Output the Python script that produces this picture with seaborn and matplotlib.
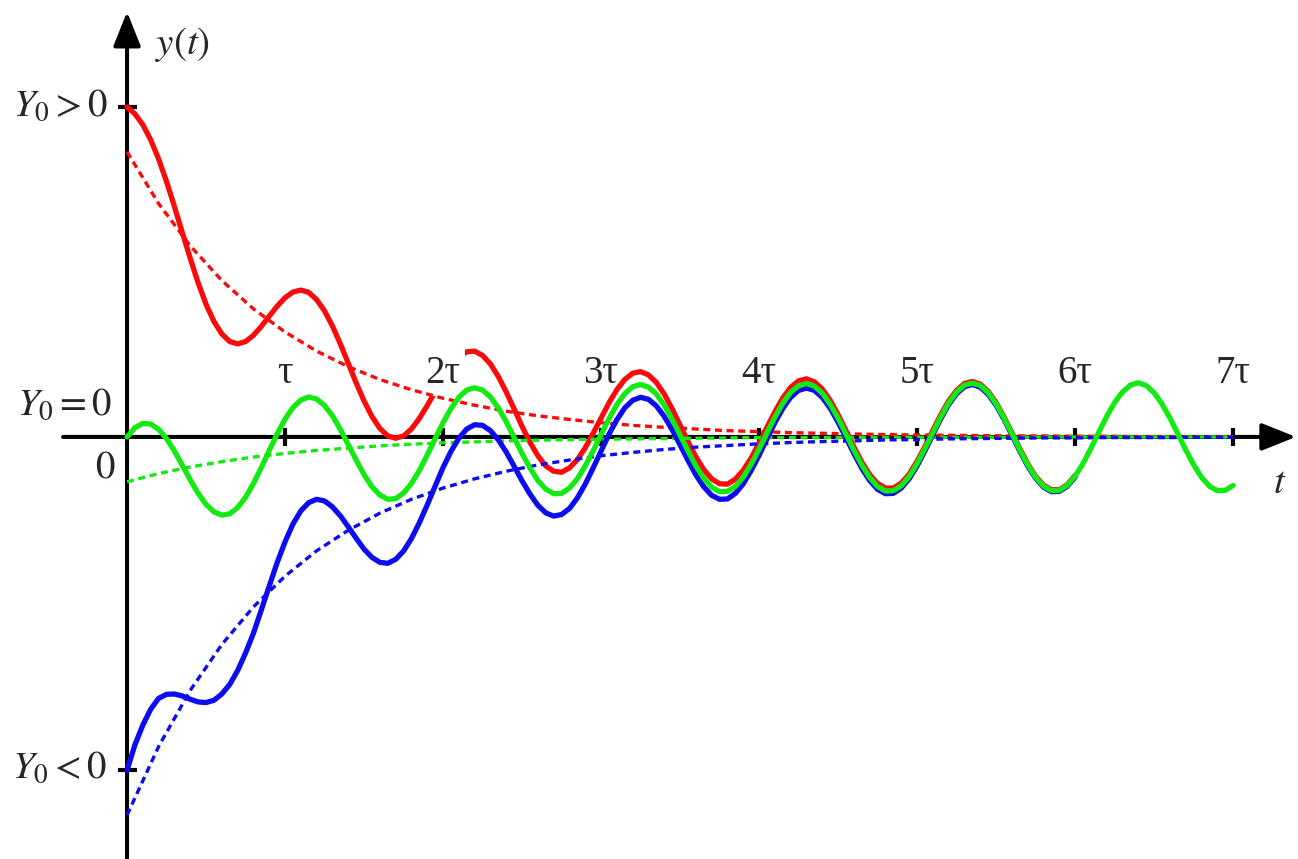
import matplotlib
matplotlib.use("Agg")
import matplotlib.pyplot as plt
import seaborn as sns

# curves: time in units of tau, y in units of |Y0|
t_curve = [0.00, 0.05, 0.10, 0.15, 0.20, 0.25, 0.30, 0.35, 0.40, 0.45,
           0.50, 0.55, 0.60, 0.65, 0.70, 0.75, 0.80, 0.85, 0.90, 0.95,
           1.00, 1.05, 1.10, 1.15, 1.20, 1.25, 1.30, 1.35, 1.40, 1.45,
           1.50, 1.55, 1.60, 1.65, 1.70, 1.75, 1.80, 1.85, 1.90, 1.95,
           2.00, 2.05, 2.10, 2.15, 2.20, 2.25, 2.30, 2.35, 2.40, 2.45,
           2.50, 2.55, 2.60, 2.65, 2.70, 2.75, 2.80, 2.85, 2.90, 2.95,
           3.00, 3.05, 3.10, 3.15, 3.20, 3.25, 3.30, 3.35, 3.40, 3.45,
           3.50, 3.55, 3.60, 3.65, 3.70, 3.75, 3.80, 3.85, 3.90, 3.95,
           4.00, 4.05, 4.10, 4.15, 4.20, 4.25, 4.30, 4.35, 4.40, 4.45,
           4.50, 4.55, 4.60, 4.65, 4.70, 4.75, 4.80, 4.85, 4.90, 4.95,
           5.00, 5.05, 5.10, 5.15, 5.20, 5.25, 5.30, 5.35, 5.40, 5.45,
           5.50, 5.55, 5.60, 5.65, 5.70, 5.75, 5.80, 5.85, 5.90, 5.95,
           6.00, 6.05, 6.10, 6.15, 6.20, 6.25, 6.30, 6.35, 6.40, 6.45,
           6.50, 6.55, 6.60, 6.65, 6.70, 6.75, 6.80, 6.85, 6.90, 6.95,
           7.00]

# Y0 > 0 (red), read up to 6 tau (hidden under the green one afterwards)
red_curve = [1.000, 0.979, 0.946, 0.900, 0.842, 0.774, 0.698, 0.619, 0.541, 0.467,
             0.402, 0.350, 0.312, 0.289, 0.282, 0.289, 0.308, 0.335, 0.366, 0.396,
             0.422, 0.439, 0.445, 0.438, 0.416, 0.382, 0.336, 0.282, 0.223, 0.164,
             0.109, 0.062, 0.026, 0.003, -0.004, 0.003, 0.024, 0.056, 0.095, 0.137,
             0.179, 0.215, 0.243, 0.258, 0.260, 0.247, 0.221, 0.183, 0.136, 0.085,
             0.032, -0.016, -0.057, -0.088, -0.104, -0.107, -0.094, -0.069, -0.033, 0.011,
             0.057, 0.103, 0.143, 0.174, 0.193, 0.198, 0.188, 0.165, 0.130, 0.085,
             0.036, -0.014, -0.060, -0.099, -0.127, -0.142, -0.143, -0.128, -0.101, -0.064,
             -0.019, 0.029, 0.076, 0.118, 0.150, 0.170, 0.176, 0.167, 0.145, 0.111,
             0.068, 0.019, -0.030, -0.076, -0.114, -0.141, -0.155, -0.155, -0.140, -0.113,
             -0.074, -0.029, 0.020, 0.067, 0.109, 0.141, 0.162, 0.168, 0.160, 0.138,
             0.104, 0.061, 0.013, -0.035, -0.081, -0.119, -0.146, -0.160, -0.160, -0.145,
             -0.117]

# Y0 = 0 (green), full range
green_curve = [0.000, 0.028, 0.041, 0.039, 0.023, -0.005, -0.043, -0.086, -0.130, -0.171,
               -0.204, -0.227, -0.237, -0.233, -0.214, -0.183, -0.141, -0.093, -0.041, 0.009,
               0.054, 0.089, 0.112, 0.121, 0.115, 0.095, 0.064, 0.023, -0.023, -0.070,
               -0.114, -0.151, -0.176, -0.189, -0.187, -0.170, -0.141, -0.102, -0.055, -0.005,
               0.043, 0.086, 0.120, 0.142, 0.149, 0.142, 0.121, 0.088, 0.046, -0.002,
               -0.050, -0.094, -0.132, -0.158, -0.172, -0.171, -0.155, -0.127, -0.088, -0.042,
               0.007, 0.055, 0.098, 0.131, 0.152, 0.159, 0.151, 0.130, 0.096, 0.054,
               0.006, -0.042, -0.088, -0.125, -0.152, -0.166, -0.165, -0.150, -0.122, -0.083,
               -0.037, 0.012, 0.060, 0.102, 0.135, 0.155, 0.162, 0.154, 0.133, 0.099,
               0.057, 0.009, -0.040, -0.085, -0.123, -0.150, -0.164, -0.163, -0.148, -0.120,
               -0.081, -0.035, 0.013, 0.061, 0.103, 0.136, 0.157, 0.163, 0.156, 0.134,
               0.100, 0.058, 0.010, -0.039, -0.084, -0.122, -0.149, -0.163, -0.162, -0.147,
               -0.119, -0.081, -0.035, 0.014, 0.062, 0.104, 0.136, 0.157, 0.164, 0.156,
               0.134, 0.100, 0.058, 0.010, -0.039, -0.084, -0.122, -0.149, -0.163, -0.162,
               -0.147]

# Y0 < 0 (blue), read up to 6 tau
blue_curve = [-1.010, -0.933, -0.873, -0.825, -0.792, -0.780, -0.779, -0.785, -0.795, -0.803,
              -0.805, -0.798, -0.779, -0.750, -0.708, -0.655, -0.595, -0.524, -0.452, -0.381,
              -0.318, -0.264, -0.224, -0.199, -0.189, -0.194, -0.212, -0.239, -0.272, -0.307,
              -0.340, -0.365, -0.380, -0.383, -0.371, -0.346, -0.308, -0.260, -0.206, -0.149,
              -0.093, -0.044, -0.004, 0.024, 0.037, 0.035, 0.019, -0.009, -0.046, -0.089,
              -0.133, -0.173, -0.207, -0.230, -0.240, -0.235, -0.217, -0.185, -0.143, -0.094,
              -0.043, 0.008, 0.052, 0.088, 0.111, 0.120, 0.114, 0.094, 0.062, 0.022,
              -0.024, -0.071, -0.115, -0.151, -0.177, -0.189, -0.188, -0.171, -0.142, -0.102,
              -0.056, -0.006, 0.043, 0.086, 0.120, 0.141, 0.148, 0.141, 0.120, 0.087,
              0.045, -0.002, -0.050, -0.095, -0.132, -0.159, -0.172, -0.171, -0.155, -0.127,
              -0.088, -0.042, 0.007, 0.055, 0.098, 0.131, 0.152, 0.159, 0.151, 0.129,
              0.096, 0.054, 0.006, -0.043, -0.088, -0.125, -0.152, -0.166, -0.165, -0.150,
              -0.122]

# dotted decaying parts
t_trend = [0.0, 0.2, 0.4, 0.6, 0.8, 1.0, 1.2, 1.4, 1.6, 1.8, 2.0, 2.2,
           2.4, 2.6, 2.8, 3.0, 3.2, 3.4, 3.6, 3.8, 4.0, 4.2, 4.4, 4.6,
           4.8, 5.0, 5.2, 5.4, 5.6, 5.8, 6.0, 6.2, 6.4, 6.6, 6.8, 7.0]

red_trend = [0.864, 0.707, 0.579, 0.474, 0.388, 0.318, 0.260, 0.213, 0.174, 0.143, 0.117, 0.096,
             0.078, 0.064, 0.053, 0.043, 0.035, 0.029, 0.024, 0.019, 0.016, 0.013, 0.011, 0.009,
             0.007, 0.006, 0.005, 0.004, 0.003, 0.003, 0.002, 0.002, 0.001, 0.001, 0.001, 0.001]

green_trend = [-0.136, -0.111, -0.091, -0.075, -0.061, -0.050, -0.041, -0.034, -0.027, -0.022, -0.018, -0.015,
               -0.012, -0.010, -0.008, -0.007, -0.006, -0.005, -0.004, -0.003, -0.002, -0.002, -0.002, -0.001,
               -0.001, -0.001, -0.001, -0.001, -0.001, 0.000, 0.000, 0.000, 0.000, 0.000, 0.000, 0.000]

blue_trend = [-1.146, -0.938, -0.768, -0.629, -0.515, -0.422, -0.345, -0.283, -0.231, -0.189, -0.155, -0.127,
              -0.104, -0.085, -0.070, -0.057, -0.047, -0.038, -0.031, -0.026, -0.021, -0.017, -0.014, -0.012,
              -0.009, -0.008, -0.006, -0.005, -0.004, -0.003, -0.003, -0.002, -0.002, -0.002, -0.001, -0.001]

tick_times = [1, 2, 3, 4, 5, 6, 7]
tick_labels = ["τ", "2τ", "3τ", "4τ", "5τ", "6τ", "7τ"]
y0_levels = [1.0, -1.01]

RED = "#fa0a0a"
GREEN = "#12ea12"
BLUE = "#0c0cee"

sns.set_style("white")
plt.rcParams["font.family"] = ["Liberation Serif", "DejaVu Serif"]
plt.rcParams["mathtext.fontset"] = "stix"

fig = plt.figure(figsize=(12.98, 8.59), dpi=100)
ax = fig.add_axes([0, 0, 1, 1])
ax.set_xlim(-0.804, 7.411)
ax.set_ylim(-1.279, 1.324)
ax.set_axis_off()

# ---- ejes con flechas ----
arrow = dict(arrowstyle="-|>,head_length=1.05,head_width=0.42", mutation_scale=20,
             lw=2.9, color="black", shrinkA=0, shrinkB=0)
ax.annotate("", xy=(0, 1.288), xytext=(0, -1.30), arrowprops=arrow, zorder=1)
ax.annotate("", xy=(7.398, 0), xytext=(-0.405, 0), arrowprops=arrow, zorder=1)
ax.vlines(tick_times, -0.026, 0.026, color="black", lw=3, zorder=1)
ax.hlines(y0_levels, -0.057, 0.063, color="black", lw=3, zorder=1)

# ---- curvas ----
n_rb = len(red_curve)
dots = (0, (2.1, 1.4))
sns.lineplot(x=t_curve[:n_rb], y=red_curve, ax=ax, color=RED, linewidth=3.8,
             estimator=None, sort=False, zorder=2)
sns.lineplot(x=t_trend, y=red_trend, ax=ax, color=RED, linewidth=2.4,
             linestyle=dots, estimator=None, sort=False, zorder=2.4)
sns.lineplot(x=t_trend, y=green_trend, ax=ax, color=GREEN, linewidth=2.4,
             linestyle=dots, estimator=None, sort=False, zorder=2.4)
sns.lineplot(x=t_trend, y=blue_trend, ax=ax, color=BLUE, linewidth=2.4,
             linestyle=dots, estimator=None, sort=False, zorder=2.4)
sns.lineplot(x=t_curve[:n_rb], y=blue_curve, ax=ax, color=BLUE, linewidth=3.8,
             estimator=None, sort=False, zorder=2.6)
sns.lineplot(x=t_curve, y=green_curve, ax=ax, color=GREEN, linewidth=3.8,
             estimator=None, sort=False, zorder=2.8)

# ---- textos ----
for tt, lab in zip(tick_times, tick_labels):
    kw = {}
    if lab == "2τ":
        # the label hides the red curve behind it, as in the original
        kw["bbox"] = dict(boxstyle="square,pad=0.12", fc="white", ec="none")
    ax.text(tt, 0.164, lab, ha="center", va="baseline", fontsize=28, zorder=2.2, **kw)

ax.text(-0.120, 0.973, r"$Y_0 > 0$", ha="right", va="baseline", fontsize=28)
ax.text(-0.095, 0.067, r"$Y_0 = 0$", ha="right", va="baseline", fontsize=28)
ax.text(-0.076, -0.124, r"$0$", ha="right", va="baseline", fontsize=28)
ax.text(-0.127, -1.033, r"$Y_0 < 0$", ha="right", va="baseline", fontsize=28)
ax.text(0.177, 1.161, r"$y(t)$", ha="left", va="baseline", fontsize=28)
ax.text(7.297, -0.170, r"$t$", ha="center", va="baseline", fontsize=28)

fig.savefig("out.png", dpi=100)
